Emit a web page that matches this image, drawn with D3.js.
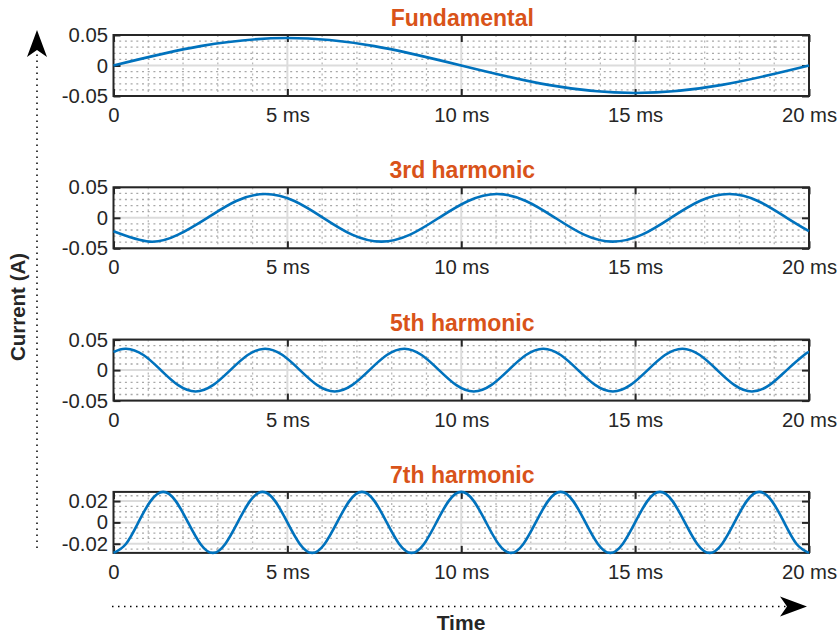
<!DOCTYPE html>
<html>
<head>
<meta charset="utf-8">
<script src="https://cdn.jsdelivr.net/npm/d3@7"></script>
<style>
    body { margin: 0; background: #fff; }
    svg { display: block; font-family: "Liberation Sans", Arial, sans-serif; }
</style>
</head>
<body>
<svg id="chart"></svg>
<script>
// panel titles and axis labelling
const titles = ["Fundamental", "3rd harmonic", "5th harmonic", "7th harmonic"];
const xTicks = [0, 5, 10, 15, 20];
const xTickLabels = ["0", "5 ms", "10 ms", "15 ms", "20 ms"];
const yLimits = [[-0.05, 0.05], [-0.05, 0.05], [-0.05, 0.05], [-0.0286, 0.0286]];
const yTicks = [[-0.05, 0, 0.05], [-0.05, 0, 0.05], [-0.05, 0, 0.05], [-0.02, 0, 0.02]];
const yTickLabels = [["-0.05", "0", "0.05"], ["-0.05", "0", "0.05"], ["-0.05", "0", "0.05"], ["-0.02", "0", "0.02"]];

// current samples (time in ms, current in A)
const fundTime = [0, 2.5, 5, 7.5, 10, 12.5, 15, 17.5, 20];
const fundCurrent = [0, 0.0318, 0.045, 0.0318, 0, -0.0318, -0.045, -0.0318, 0];

const h3Time = [0, 1.03, 1.86, 2.7, 3.53, 4.36, 5.2, 6.03, 6.86, 7.7, 8.53, 9.36, 10.2,
    11.03, 11.86, 12.7, 13.53, 14.36, 15.2, 16.03, 16.86, 17.7, 18.53, 19.36, 20];
const h3Current = [-0.022,
    -0.039, -0.0276, 0, 0.0276, 0.039, 0.0276, 0, -0.0276,
    -0.039, -0.0276, 0, 0.0276, 0.039, 0.0276, 0, -0.0276,
    -0.039, -0.0276, 0, 0.0276, 0.039, 0.0276, 0,
    -0.022];

const h5Time = [0, 0.36, 0.86, 1.36, 1.86, 2.36, 2.86, 3.36, 3.86, 4.36, 4.86, 5.36, 5.86,
    6.36, 6.86, 7.36, 7.86, 8.36, 8.86, 9.36, 9.86, 10.36, 10.86, 11.36, 11.86, 12.36,
    12.86, 13.36, 13.86, 14.36, 14.86, 15.36, 15.86, 16.36, 16.86, 17.36, 17.86, 18.36,
    18.86, 19.36, 19.86, 20];
const h5Current = [0.0296,
    0.035, 0.0247, 0, -0.0247, -0.035, -0.0247, 0, 0.0247,
    0.035, 0.0247, 0, -0.0247, -0.035, -0.0247, 0, 0.0247,
    0.035, 0.0247, 0, -0.0247, -0.035, -0.0247, 0, 0.0247,
    0.035, 0.0247, 0, -0.0247, -0.035, -0.0247, 0, 0.0247,
    0.035, 0.0247, 0, -0.0247, -0.035, -0.0247, 0, 0.0247,
    0.0296];

const h7Time = [0, 0.357, 0.714, 1.071, 1.429, 1.786, 2.143, 2.5, 2.857, 3.214, 3.571,
    3.929, 4.286, 4.643, 5, 5.357, 5.714, 6.071, 6.429, 6.786, 7.143, 7.5, 7.857, 8.214,
    8.571, 8.929, 9.286, 9.643, 10, 10.357, 10.714, 11.071, 11.429, 11.786, 12.143, 12.5,
    12.857, 13.214, 13.571, 13.929, 14.286, 14.643, 15, 15.357, 15.714, 16.071, 16.429,
    16.786, 17.143, 17.5, 17.857, 18.214, 18.571, 18.929, 19.286, 19.643, 20];
const h7Current = [
    -0.0286, -0.0202, 0, 0.0202, 0.0286, 0.0202, 0, -0.0202,
    -0.0286, -0.0202, 0, 0.0202, 0.0286, 0.0202, 0, -0.0202,
    -0.0286, -0.0202, 0, 0.0202, 0.0286, 0.0202, 0, -0.0202,
    -0.0286, -0.0202, 0, 0.0202, 0.0286, 0.0202, 0, -0.0202,
    -0.0286, -0.0202, 0, 0.0202, 0.0286, 0.0202, 0, -0.0202,
    -0.0286, -0.0202, 0, 0.0202, 0.0286, 0.0202, 0, -0.0202,
    -0.0286, -0.0202, 0, 0.0202, 0.0286, 0.0202, 0, -0.0202,
    -0.0286];

const seriesTime = [fundTime, h3Time, h5Time, h7Time];
const seriesCurrent = [fundCurrent, h3Current, h5Current, h7Current];

const width = 839, height = 634;
const left = 113.5, right = 809;
const panelTop = 35, panelHeight = 61, panelStep = 152.3;
const ink = "#262626";

const svg = d3.select("#chart").attr("width", width).attr("height", height);

const xScale = d3.scaleLinear().domain([0, 20]).range([left, right]);

titles.forEach((title, i) => {
    const top = panelTop + i * panelStep;
    const bottom = top + panelHeight;
    const yScale = d3.scaleLinear().domain(yLimits[i]).range([bottom, top]);
    const g = svg.append("g");

    // minor grid (dotted)
    const xMinor = xScale.ticks(20).filter(t => !xTicks.includes(t));
    const yMinor = yScale.ticks(10).filter(t => !yTicks[i].some(m => Math.abs(m - t) < 1e-9)
        && t > yLimits[i][0] && t < yLimits[i][1]);
    g.append("g").selectAll("line").data(xMinor).join("line")
        .attr("x1", d => xScale(d)).attr("x2", d => xScale(d))
        .attr("y1", top).attr("y2", bottom)
        .attr("stroke", "#b8b8b8").attr("stroke-width", 1.3).attr("stroke-dasharray", "2,3.5");
    g.append("g").selectAll("line").data(yMinor).join("line")
        .attr("x1", left).attr("x2", right)
        .attr("y1", d => yScale(d)).attr("y2", d => yScale(d))
        .attr("stroke", "#a8a8a8").attr("stroke-width", 1.3).attr("stroke-dasharray", "2,3.7");

    // major grid
    g.append("g").selectAll("line").data(xTicks.slice(1, -1)).join("line")
        .attr("x1", d => xScale(d)).attr("x2", d => xScale(d))
        .attr("y1", top).attr("y2", bottom)
        .attr("stroke", "#dcdcdc").attr("stroke-width", 2);
    g.append("g").selectAll("line").data(yTicks[i]).join("line")
        .attr("x1", left).attr("x2", right)
        .attr("y1", d => yScale(d)).attr("y2", d => yScale(d))
        .attr("stroke", "#dcdcdc").attr("stroke-width", 2);

    // axes with inward ticks on all four sides
    const xAxis = g.append("g").attr("transform", `translate(0,${bottom})`)
        .call(d3.axisBottom(xScale).tickValues(xTicks)
            .tickFormat((d, k) => xTickLabels[k]).tickSizeInner(-7).tickSizeOuter(0).tickPadding(11.5));
    const yAxis = g.append("g").attr("transform", `translate(${left},0)`)
        .call(d3.axisLeft(yScale).tickValues(yTicks[i])
            .tickFormat((d, k) => yTickLabels[i][k]).tickSizeInner(-7).tickSizeOuter(0).tickPadding(5.5));
    const xTop = g.append("g").attr("transform", `translate(0,${top})`)
        .call(d3.axisTop(xScale).tickValues(xTicks).tickFormat("").tickSizeInner(-7).tickSizeOuter(0));
    const yRight = g.append("g").attr("transform", `translate(${right},0)`)
        .call(d3.axisRight(yScale).tickValues(yTicks[i]).tickFormat("").tickSizeInner(-7).tickSizeOuter(0));

    [xAxis, yAxis, xTop, yRight].forEach(a => {
        a.select(".domain").remove();
        a.selectAll(".tick line").attr("stroke", ink).attr("stroke-width", 2);
        a.selectAll("text").attr("fill", ink)
            .style("font-family", "'Liberation Sans', Arial, sans-serif").style("font-size", "20.3px");
    });

    // box
    g.append("rect")
        .attr("x", left).attr("y", top)
        .attr("width", right - left).attr("height", panelHeight)
        .attr("fill", "none").attr("stroke", ink).attr("stroke-width", 2);

    // waveform
    const points = seriesTime[i].map((t, k) => [t, seriesCurrent[i][k]]);
    const line = d3.line()
        .x(d => xScale(d[0]))
        .y(d => yScale(d[1]))
        .curve(d3.curveNatural);
    g.append("path")
        .attr("d", line(points))
        .attr("fill", "none")
        .attr("stroke", "#0072BD")
        .attr("stroke-width", 2.6);

    // title
    g.append("text")
        .attr("x", (left + right) / 2 + 1).attr("y", top - 9)
        .attr("text-anchor", "middle")
        .attr("fill", "#D95319")
        .style("font-size", "23px").style("font-weight", "bold")
        .text(title);
});

// arrow helpers: dotted shaft plus a notched head
function arrowHead(tip, dir) {
    const [tx, ty] = tip;
    const len = 27, half = 10, notch = 20;
    // dir is a unit vector pointing toward the tip
    const [dx, dy] = dir;
    const px = -dy, py = dx;
    const bx = tx - dx * len, by = ty - dy * len;
    const nx = tx - dx * notch, ny = ty - dy * notch;
    return `M${tx},${ty}L${bx + px * half},${by + py * half}L${nx},${ny}L${bx - px * half},${by - py * half}Z`;
}

svg.append("line")
    .attr("x1", 37).attr("x2", 37).attr("y1", 548).attr("y2", 52)
    .attr("stroke", "#000").attr("stroke-width", 1.5).attr("stroke-dasharray", "1.5,4.5");
svg.append("path").attr("d", arrowHead([37, 30], [0, -1])).attr("fill", "#000");

svg.append("line")
    .attr("x1", 112).attr("x2", 787).attr("y1", 606.5).attr("y2", 606.5)
    .attr("stroke", "#000").attr("stroke-width", 1.5).attr("stroke-dasharray", "1.5,4.5");
svg.append("path").attr("d", arrowHead([807, 606.5], [1, 0])).attr("fill", "#000");

// axis labels
svg.append("text")
    .attr("transform", "translate(25,307) rotate(-90)")
    .attr("text-anchor", "middle").attr("fill", ink)
    .style("font-size", "20.5px").style("font-weight", "bold")
    .text("Current (A)");

svg.append("text")
    .attr("x", 461).attr("y", 630)
    .attr("text-anchor", "middle").attr("fill", ink)
    .style("font-size", "21px").style("font-weight", "bold")
    .text("Time");
</script>
</body>
</html>
